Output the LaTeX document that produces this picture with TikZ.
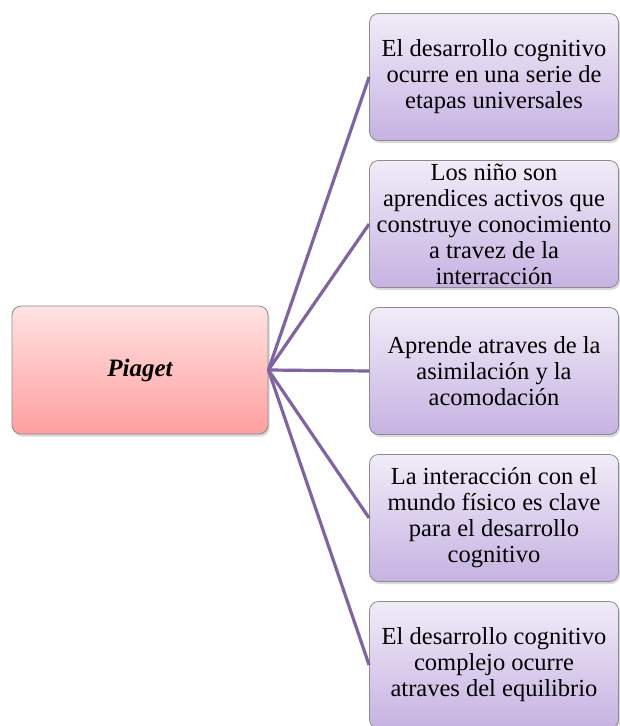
\documentclass[tikz,border=0pt]{standalone}
\usepackage{fontspec}
\setmainfont{Liberation Serif}
\usetikzlibrary{positioning,shadows}

\definecolor{linkpurple}{HTML}{8064A2}
\definecolor{leaftop}{HTML}{F1ECF8}
\definecolor{leafbot}{HTML}{C6B2E2}
\definecolor{roottop}{HTML}{FFE2E2}
\definecolor{rootbot}{HTML}{FF9F9F}

\begin{document}
\begin{tikzpicture}
			[x=1pt,y=-1pt,node distance=147pt,on grid,
			root/.style={rectangle,rounded corners=9pt,draw=black!45,line width=0.8pt,
				top color=roottop,bottom color=rootbot,minimum width=256pt,minimum height=128pt,
				drop shadow={opacity=0.3,shadow xshift=1.5pt,shadow yshift=-2.5pt},
				font=\fontsize{25}{26}\selectfont\bfseries\itshape},
			leaf/.style={root,top color=leaftop,bottom color=leafbot,minimum width=249pt,
				minimum height=127pt,align=center,inner sep=1pt,
				font=\fontsize{24.5}{26}\selectfont},
			link/.style={draw=linkpurple,line width=3.2pt}]

			\useasboundingbox (0,0) rectangle (620,726);

			\node [root](piaget) at (140,370)                    {Piaget};

			\node [leaf](b3) [right=354pt of piaget, yshift=-1pt] {Aprende atraves de la\\ asimilación y la\\ acomodación};
			\node [leaf](b2) [above=of b3]                       {Los niño son\\ aprendices activos que\\ construye conocimiento\\ a travez de la\\ interracción};
			\node [leaf](b1) [above=of b2]                       {El desarrollo cognitivo\\ ocurre en una serie de\\ etapas universales};
			\node [leaf](b4) [below=of b3]                       {La interacción con el\\ mundo físico es clave\\ para el desarrollo\\ cognitivo};
			\node [leaf](b5) [below=of b4]                       {El desarrollo cognitivo\\ complejo ocurre\\ atraves del equilibrio};

			\foreach \i in {1,...,5}
				\draw [link] (piaget.east) -- (b\i.west);

			\end{tikzpicture}
\end{document}
